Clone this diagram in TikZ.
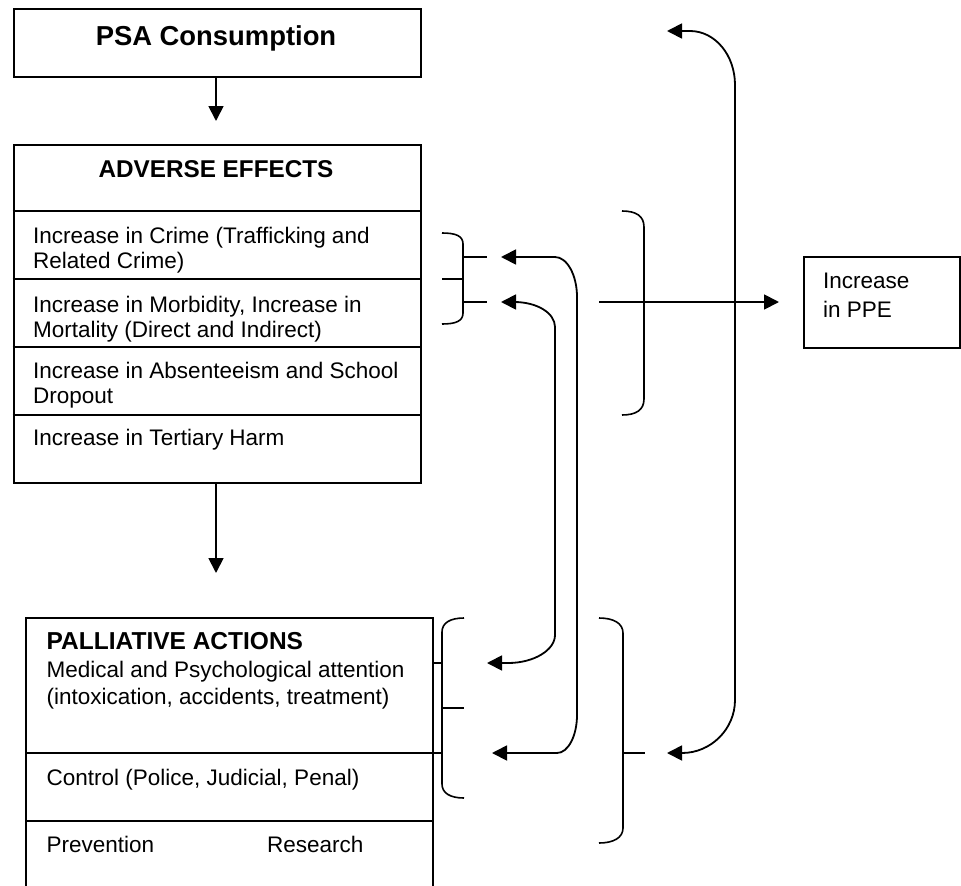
\documentclass[tikz,border=0pt]{standalone}
\usepackage{fontspec}
\setmainfont{Liberation Sans}
\usetikzlibrary{arrows.meta}
\tikzset{
  boxline/.style={line width=1.8pt},
  txt/.style={anchor=base west, inner sep=0pt, font=\fontsize{22.5}{26}\selectfont},
  tip/.tip={Triangle[length=15pt,width=15pt]},
  conn/.style={line width=1.8pt, -tip},
  dconn/.style={line width=1.8pt, tip-tip},
  bracel/.style={line width=1.6pt},
}
\begin{document}
\begin{tikzpicture}[x=1pt,y=-1pt]
\useasboundingbox (0,0) rectangle (961,886);
% PSA box
\node[boxline, draw, rectangle, anchor=north west, minimum width=407pt, minimum height=68pt, inner sep=0pt] (psa) at (12.7,8.3) {};
\node[anchor=base, inner sep=0pt, font=\fontsize{27.4}{30}\selectfont\bfseries] (psat) at (216,45) {PSA Consumption};
% Adverse effects box
\node[boxline, draw, rectangle, anchor=north west, minimum width=407pt, minimum height=338pt, inner sep=0pt] (adv) at (12.7,144) {};
\node[anchor=base, inner sep=0pt, font=\fontsize{24.3}{28}\selectfont\bfseries] (advt) at (216,177) {ADVERSE EFFECTS};
\coordinate (d1l) at (12.7,211); \coordinate (d1r) at (419.7,211);
\coordinate (d2l) at (12.7,279); \coordinate (d2r) at (419.7,279);
\coordinate (d3l) at (12.7,347); \coordinate (d3r) at (419.7,347);
\coordinate (d4l) at (12.7,415); \coordinate (d4r) at (419.7,415);
\draw[boxline] (d1l) -- (d1r) (d2l) -- (d2r) (d3l) -- (d3r) (d4l) -- (d4r);
\node[txt] (r1a) at (33,243) {Increase in Crime (Trafficking and};
\node[txt] (r1b) at (33,268) {Related Crime)};
\node[txt] (r2a) at (33,312) {Increase in Morbidity, Increase in};
\node[txt] (r2b) at (33,337) {Mortality (Direct and Indirect)};
\node[txt] (r3a) at (33,378) {Increase in Absenteeism and School};
\node[txt] (r3b) at (33,403) {Dropout};
\node[txt] (r4a) at (33,445) {Increase in Tertiary Harm};
% arrows down
\coordinate (a1s) at (216,76.7); \coordinate (a1e) at (216,121);
\draw[conn] (a1s) -- (a1e);
\coordinate (a2s) at (216,482); \coordinate (a2e) at (216,573);
\draw[conn] (a2s) -- (a2e);
% Palliative box (open at the bottom)
\coordinate (pbl) at (26,890); \coordinate (ptl) at (26,618);
\coordinate (ptr) at (433,618); \coordinate (pbr) at (433,890);
\draw[boxline] (pbl) -- (ptl) -- (ptr) -- (pbr);
\coordinate (p1l) at (26,753); \coordinate (p1r) at (433,753);
\coordinate (p2l) at (26,821); \coordinate (p2r) at (433,821);
\draw[boxline] (p1l) -- (p1r) (p2l) -- (p2r);
\node[anchor=base west, inner sep=0pt, font=\fontsize{24.5}{28}\selectfont\bfseries] (pt) at (46.5,649) {PALLIATIVE ACTIONS};
\node[txt] (pm1) at (46.5,677) {Medical and Psychological attention};
\node[txt] (pm2) at (46.5,704) {(intoxication, accidents, treatment)};
\node[txt] (pc) at (46.5,785) {Control (Police, Judicial, Penal)};
\node[txt] (pp) at (46.5,852) {Prevention};
\node[txt] (pr) at (267,852) {Research};
% PPE box
\node[boxline, draw, rectangle, anchor=north west, minimum width=156pt, minimum height=91pt, inner sep=0pt] (ppe) at (803,256) {};
\node[txt] (ppe1) at (823,288) {Increase};
\node[txt] (ppe2) at (823,317) {in PPE};
% upper left brace
\draw[bracel] (442,233) .. controls (456,233) and (463,236) .. (463,244) -- (463,313) .. controls (463,321) and (456,324) .. (442,324);
\draw[bracel] (463,257) -- (487,257) (463,302) -- (487,302) (442,279) -- (463,279);
% big right brace
\draw[bracel] (622,211) .. controls (636,211) and (644,216) .. (644,227) -- (644,399) .. controls (644,410) and (636,415) .. (622,415);
\coordinate (hs) at (599,302); \coordinate (he) at (779,302);
\draw[conn] (hs) -- (he);
% lower left brace
\draw[bracel] (464,618) .. controls (450,618) and (442,623) .. (442,632) -- (442,784) .. controls (442,793) and (450,798) .. (464,798);
\draw[bracel] (442,708) -- (464,708) (433,663) -- (442,663) (433,753) -- (442,753);
% lower right brace
\draw[bracel] (599,618) .. controls (613,618) and (623,623) .. (623,633) -- (623,828) .. controls (623,838) and (613,843) .. (599,843);
\draw[bracel] (623,753) -- (645,753);
% double arrows
\coordinate (t1a) at (501,302); \coordinate (t1b) at (487,663);
\draw[dconn] (t1a) -- (514,302) .. controls (537,302) and (555,313) .. (555,327) -- (555,635) .. controls (555,650) and (534,663) .. (508,663) -- (t1b);
\coordinate (t2a) at (501,257); \coordinate (t2b) at (492,753);
\draw[dconn] (t2a) -- (555,257) .. controls (567,257) and (577,275) .. (577,297) -- (577,715) .. controls (577,736) and (568,753) .. (557,753) -- (t2b);
\coordinate (t3a) at (667,31); \coordinate (t3b) at (667,753);
\draw[dconn] (t3a) -- (690,31) .. controls (715,31) and (735,55) .. (735,85) -- (735,700) .. controls (735,729) and (711,753) .. (682,753) -- (t3b);
\end{tikzpicture}
\end{document}
